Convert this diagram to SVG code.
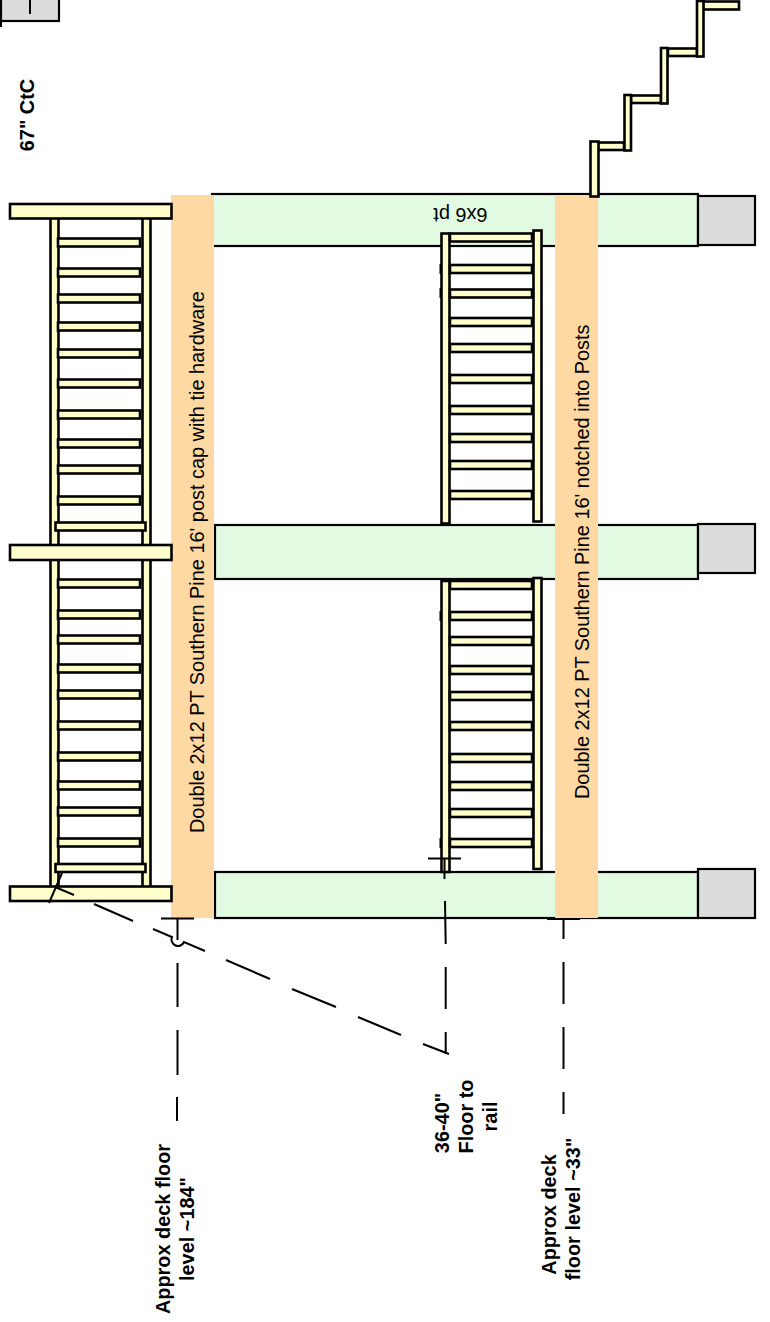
<svg xmlns="http://www.w3.org/2000/svg" width="770" height="1322" viewBox="0 0 770 1322">
<style>
.w{fill:#ffffcc;stroke:#000;stroke-width:2.6}
.post{fill:#e1fae1;stroke:#000;stroke-width:2.2}
.beam{fill:#ffd9a3}
.pier{fill:#dcdcdc;stroke:#000;stroke-width:2.2}
.d{fill:none;stroke:#000;stroke-width:2}
text{font-family:"Liberation Sans",Arial,sans-serif;font-size:19.9px;fill:#000}
.b{font-weight:bold;text-anchor:middle}
</style>
<rect width="770" height="1322" fill="#fff"/>
<g id="pier-top-left"><rect class="pier" x="1" y="-10" width="58" height="31"/><path class="d" d="M30 0V14M1 21V27"/></g>
<g id="posts">
<rect class="post" x="212" y="194" width="486" height="52"/>
<rect class="post" x="215" y="525" width="483" height="54"/>
<rect class="post" x="215" y="872" width="483" height="46"/>
</g>
<g id="piers">
<rect class="pier" x="698" y="196" width="57" height="49"/>
<rect class="pier" x="698" y="524" width="57" height="49"/>
<rect class="pier" x="698" y="869" width="57" height="49"/>
</g>
<g id="beams">
<rect class="beam" x="171" y="195" width="43" height="723"/>
<rect class="beam" x="555" y="195" width="43" height="723"/>
</g>
<g id="left-rail">
<rect class="w" x="50.500" y="215" width="8" height="675"/>
<rect class="w" x="142.500" y="215" width="8" height="675"/>
<rect class="w" x="58" y="238.500" width="82" height="8"/><rect class="w" x="58" y="268.500" width="82" height="8"/><rect class="w" x="58" y="294.500" width="82" height="8"/><rect class="w" x="58" y="322.500" width="82" height="8"/><rect class="w" x="58" y="349.500" width="82" height="8"/><rect class="w" x="58" y="379.500" width="82" height="8"/><rect class="w" x="58" y="410.500" width="82" height="8"/><rect class="w" x="58" y="439.500" width="82" height="8"/><rect class="w" x="58" y="465.500" width="82" height="8"/><rect class="w" x="58" y="496.500" width="82" height="8"/>
<rect class="w" x="58" y="579.500" width="82" height="8"/><rect class="w" x="58" y="610.500" width="82" height="8"/><rect class="w" x="58" y="635.500" width="82" height="8"/><rect class="w" x="58" y="664.500" width="82" height="8"/><rect class="w" x="58" y="690.500" width="82" height="8"/><rect class="w" x="58" y="721.500" width="82" height="8"/><rect class="w" x="58" y="752.500" width="82" height="8"/><rect class="w" x="58" y="781.500" width="82" height="8"/><rect class="w" x="58" y="807.500" width="82" height="8"/><rect class="w" x="58" y="838.500" width="82" height="8"/>
<rect class="w" x="55.500" y="522.500" width="90" height="8"/>
<rect class="w" x="55.500" y="864" width="90" height="8"/>
<rect class="w" x="10" y="204" width="161.500" height="14.500"/>
<rect class="w" x="10" y="545" width="161.500" height="15"/>
<rect class="w" x="10" y="886.500" width="161.500" height="14.500"/>
</g>
<g id="middle-rail">
<rect class="w" x="441.500" y="233.500" width="8" height="290"/>
<rect class="w" x="441.500" y="581" width="8" height="291"/>
<rect class="w" x="533.500" y="230.500" width="8" height="291"/>
<rect class="w" x="533.500" y="578" width="8" height="291"/>
<rect class="w" x="450" y="233.500" width="82" height="8"/><rect class="w" x="450" y="265" width="82" height="8"/><rect class="w" x="450" y="289.500" width="82" height="8"/><rect class="w" x="450" y="318" width="82" height="8"/><rect class="w" x="450" y="344" width="82" height="8"/><rect class="w" x="450" y="375" width="82" height="8"/><rect class="w" x="450" y="406" width="82" height="8"/><rect class="w" x="450" y="434" width="82" height="8"/><rect class="w" x="450" y="461" width="82" height="8"/><rect class="w" x="450" y="491" width="82" height="8"/>
<rect class="w" x="450" y="581" width="82" height="8"/><rect class="w" x="450" y="612" width="82" height="8"/><rect class="w" x="450" y="637" width="82" height="8"/><rect class="w" x="450" y="666" width="82" height="8"/><rect class="w" x="450" y="692" width="82" height="8"/><rect class="w" x="450" y="722" width="82" height="8"/><rect class="w" x="450" y="754" width="82" height="8"/><rect class="w" x="450" y="782" width="82" height="8"/><rect class="w" x="450" y="809" width="82" height="8"/><rect class="w" x="450" y="839" width="82" height="8"/>
<path class="d" d="M440.500 264V274M440.500 288V298M440.500 611V621M440.500 838V848"/>
</g>
<g id="stairs">
<rect class="w" x="598" y="142.500" width="26" height="7.500"/><rect class="w" x="631" y="95.500" width="30" height="7.500"/><rect class="w" x="668" y="48.500" width="29" height="7.500"/><rect class="w" x="703" y="1.500" width="36" height="8"/>
<rect class="w" x="590.500" y="141.500" width="8" height="55"/><rect class="w" x="624.500" y="95" width="6.500" height="55.500"/><rect class="w" x="661" y="48" width="6.500" height="55.500"/><rect class="w" x="697" y="1" width="6.500" height="55.500"/>
</g>
<g id="connectors">
<path class="d" d="M62 873L49 903M55 887L74 895M94 904L133 921M153 929L172 937A6.500 6.500 0 0 0 184 942L205 951M226 960L270 979M292 989L336 1007M358 1017L401 1035M423 1044L449 1054"/>
<path class="d" d="M161 918.500H194M177.500 918.500V940M177.500 963V1007M177.500 1030V1075M177 1097V1121"/>
<path class="d" d="M428 858.500H461M444.500 858.500V879M445 901L445.700 944M445.700 967V1009M445.700 1032V1054"/>
<path class="d" d="M547 919H580M563.500 919V939M563.500 962V1004M563.500 1027V1069M563.500 1092V1114"/>
</g>
<g id="labels">
<text transform="translate(204 833) rotate(-90)">Double 2x12 PT Southern Pine 16' post cap with tie hardware</text>
<text transform="translate(589 799) rotate(-90)">Double 2x12 PT Southern Pine 16' notched into Posts</text>
<text transform="translate(487.500 208) rotate(180)">6x6 pt</text>
<text class="b" transform="translate(34 115) rotate(-90)">67" CtC</text>
<g transform="rotate(-90)">
<text class="b" x="-1229" y="169.500">Approx deck floor</text><text class="b" x="-1229" y="193.500">level ~184"</text>
<text class="b" x="-1123" y="448.500">36-40"</text><text class="b" x="-1116.500" y="473">Floor to</text><text class="b" x="-1116.500" y="497">rail</text>
<text class="b" x="-1214.500" y="556">Approx deck</text><text class="b" x="-1209" y="580">floor level ~33"</text>
</g>
</g>
</svg>
